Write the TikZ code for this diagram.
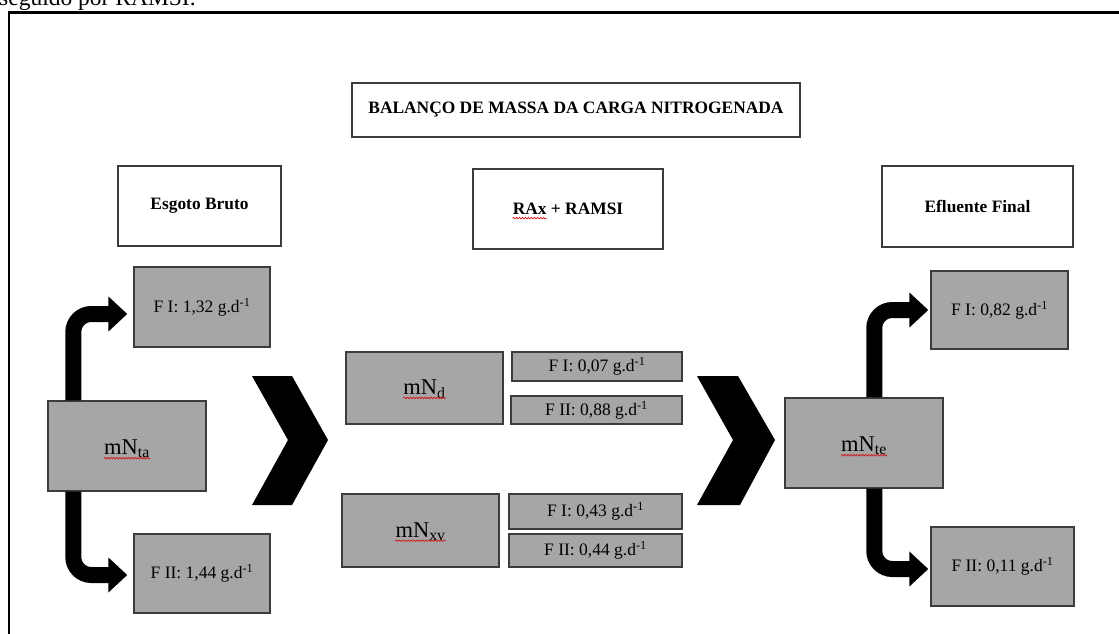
\documentclass[tikz,border=0pt]{standalone}
\usepackage{fontspec}
\setmainfont{Liberation Serif}
\usetikzlibrary{arrows.meta,decorations.pathmorphing}
\definecolor{boxgray}{RGB}{166,166,166}
\definecolor{edgegray}{RGB}{60,60,60}
\begin{document}
\begin{tikzpicture}[x=1pt,y=-1pt,
  txt/.style={font=\fontsize{17.5}{20}\selectfont},
  bold/.style={font=\fontsize{17.4}{20}\selectfont\bfseries},
  gbox/.style={draw=edgegray,line width=1.4pt,fill=boxgray,inner sep=0pt,txt},
  wbox/.style={draw=edgegray,line width=1.5pt,fill=white,inner sep=0pt,bold},
  lab/.style={inner sep=0pt,font=\fontsize{22.5}{24}\selectfont},
  squig/.style={draw=red!85!black,line width=0.6pt,decorate,
    decoration={snake,segment length=3pt,amplitude=0.8pt}},
  flow/.style={line width=16pt,rounded corners=18pt,
    -{Triangle[length=19pt,width=34pt]}},
  chev/.style={fill=black}
]
\useasboundingbox (0,0) rectangle (1119,633);
\clip (0,0) rectangle (1119,633);

% partial line of surrounding text
\node[anchor=base west,inner sep=0pt,font=\fontsize{23.5}{26}\selectfont] (cap) at (-1,5.5) {seguido por RAMSI.};

% outer frame
\draw[line width=2.5pt] (9,645) -- (9,12.5) -- (1130,12.5);

% title and headers
\node[wbox,minimum width=448pt,minimum height=54pt] (title) at (576,110) {BALANÇO DE MASSA DA CARGA NITROGENADA};
\node[wbox,minimum width=163pt,minimum height=80pt] (esg) at (199.5,206) {Esgoto Bruto};
\node[wbox,minimum width=190pt,minimum height=80pt] (rax) at (568,209) {};
\node[bold,inner sep=0pt] (raxL) at (rax) {RAx + RAMSI};
\node[wbox,minimum width=191pt,minimum height=81pt] (efl) at (977.5,206.5) {Efluente Final};

% left column
\node[gbox,minimum width=136pt,minimum height=80pt] (fi1) at (202,307) {F I: 1,32 g.d\textsuperscript{-1}};
\node[gbox,minimum width=158pt,minimum height=90pt] (nta) at (127,446) {};
\node[lab] (ntaL) at ([yshift=-3pt]nta.center) {mN\textsubscript{ta}};
\node[gbox,minimum width=136pt,minimum height=79pt] (fi2) at (202,573.5) {F II: 1,44 g.d\textsuperscript{-1}};

% middle column
\node[gbox,minimum width=157pt,minimum height=72pt] (nd) at (424.5,388) {};
\node[lab] (ndL) at ([yshift=-1pt]nd.center) {mN\textsubscript{d}};
\node[gbox,minimum width=170pt,minimum height=29pt] (d1) at (597,366.5) {F I: 0,07 g.d\textsuperscript{-1}};
\node[gbox,minimum width=171pt,minimum height=28pt] (d2) at (596.5,410) {F II: 0,88 g.d\textsuperscript{-1}};
\node[gbox,minimum width=157pt,minimum height=73pt] (nxv) at (420.5,530.5) {};
\node[lab] (nxvL) at ([yshift=-1pt]nxv.center) {mN\textsubscript{xv}};
\node[gbox,minimum width=173pt,minimum height=35pt] (x1) at (595.5,511.5) {F I: 0,43 g.d\textsuperscript{-1}};
\node[gbox,minimum width=173pt,minimum height=33pt] (x2) at (595.5,550.5) {F II: 0,44 g.d\textsuperscript{-1}};

% right column
\node[gbox,minimum width=158pt,minimum height=90pt] (nte) at (864,443) {};
\node[lab] (nteL) at ([yshift=-3pt]nte.center) {mN\textsubscript{te}};
\node[gbox,minimum width=137pt,minimum height=78pt] (fe1) at (999.5,310) {F I: 0,82 g.d\textsuperscript{-1}};
\node[gbox,minimum width=143pt,minimum height=79pt] (fe2) at (1002.5,566.5) {F II: 0,11 g.d\textsuperscript{-1}};

% spell-check underlines
\draw[squig] ([yshift=-3.5pt]ntaL.base west) -- ([yshift=-3.5pt]ntaL.base east);
\draw[squig] ([yshift=-3.5pt]ndL.base west) -- ([yshift=-3.5pt]ndL.base east);
\draw[squig] ([yshift=-3.5pt]nxvL.base west) -- ([yshift=-3.5pt]nxvL.base east);
\draw[squig] ([yshift=-3.5pt]nteL.base west) -- ([yshift=-3.5pt]nteL.base east);
\draw[squig] ([yshift=-3.5pt]raxL.base west) -- ([xshift=34pt,yshift=-3.5pt]raxL.base west);

% chevrons
\fill[chev] (252,376) -- (292,376) -- (328,440) -- (292,505) -- (252,505) -- (288,440) -- cycle;
\fill[chev] (697,376) -- (738,376) -- (775,440) -- (740,505) -- (697,505) -- (733,440) -- cycle;

% branching arrows
\draw[flow] ([xshift=26pt]nta.north west) |- ([xshift=-6pt,yshift=-7pt]fi1.west);
\draw[flow] ([xshift=26pt]nta.south west) |- ([xshift=-6pt,yshift=-1.5pt]fi2.west);
\draw[flow] ([xshift=90pt]nte.north west) |- ([xshift=-2pt]fe1.west);
\draw[flow] ([xshift=90pt]nte.south west) |- ([xshift=-2pt,yshift=-2.5pt]fe2.west);
\end{tikzpicture}
\end{document}
